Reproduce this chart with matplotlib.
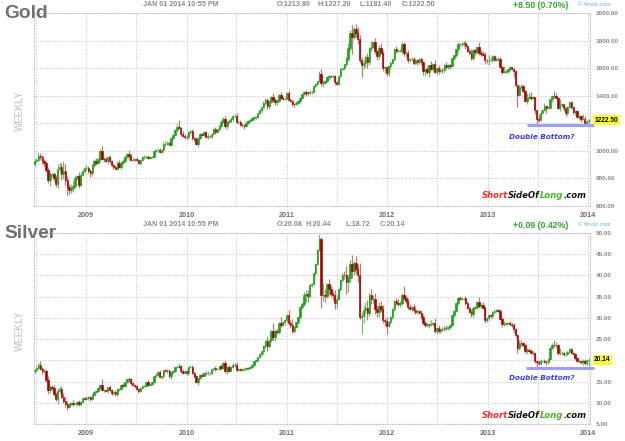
import matplotlib
matplotlib.use("Agg")
import matplotlib.pyplot as plt
import matplotlib.dates as mdates
from matplotlib.ticker import MultipleLocator, FuncFormatter
import numpy as np
import pandas as pd

plt.rcParams['font.family'] = ['Liberation Sans', 'DejaVu Sans']

# ---------------- gold, weekly closes (week ending Friday) ----------------
gold_2008 = [929, 933, 962, 956, 929, 912, 864, 785, 832, 833, 804, 762, 868, 885,
             833, 857, 785, 737, 718, 734, 748, 800, 815, 752, 823, 852, 874]
gold_2009 = [878, 853, 838, 896, 928, 915, 941, 1002, 942, 938, 929, 952, 923, 898,
             883, 871, 913, 886, 915, 929, 957, 978, 962, 936, 935, 940, 931, 913,
             937, 952, 955, 959, 948, 953, 955, 996, 1007, 1009, 991, 1004, 1050, 1053,
             1056, 1045, 1096, 1118, 1148, 1176, 1168, 1122, 1110, 1104]
gold_2010 = [1097, 1137, 1141, 1094, 1083, 1050, 1093, 1120, 1118, 1135, 1102, 1107,
             1105, 1125, 1162, 1137, 1156, 1180, 1210, 1231, 1177, 1212, 1218, 1228,
             1256, 1256, 1208, 1210, 1189, 1188, 1181, 1205, 1215, 1227, 1237, 1246,
             1246, 1275, 1298, 1317, 1345, 1372, 1326, 1358, 1393, 1367, 1352, 1362,
             1405, 1385, 1378, 1379, 1420]
gold_2011 = [1369, 1360, 1342, 1340, 1348, 1360, 1387, 1410, 1429, 1421, 1419, 1428,
             1430, 1474, 1486, 1504, 1556, 1491, 1492, 1509, 1536, 1542, 1540, 1540,
             1500, 1486, 1543, 1594, 1602, 1628, 1664, 1744, 1852, 1829, 1884, 1856,
             1814, 1658, 1624, 1636, 1682, 1642, 1747, 1756, 1788, 1724, 1685, 1745,
             1712, 1598, 1606, 1566]
gold_2012 = [1617, 1640, 1664, 1740, 1725, 1725, 1725, 1775, 1711, 1712, 1658, 1663,
             1669, 1640, 1659, 1643, 1663, 1645, 1580, 1592, 1574, 1621, 1595, 1628,
             1572, 1604, 1580, 1590, 1584, 1622, 1605, 1621, 1617, 1671, 1692, 1737,
             1772, 1774, 1773, 1780, 1757, 1725, 1712, 1676, 1731, 1714, 1752, 1712,
             1705, 1696, 1658, 1656]
gold_2013 = [1656, 1661, 1687, 1659, 1667, 1667, 1610, 1572, 1573, 1577, 1592, 1607,
             1596, 1581, 1476, 1405, 1462, 1470, 1436, 1364, 1386, 1392, 1383, 1388,
             1297, 1234, 1223, 1277, 1296, 1323, 1310, 1312, 1373, 1396, 1395, 1387,
             1308, 1333, 1337, 1310, 1272, 1315, 1352, 1315, 1285, 1288, 1243, 1253,
             1230, 1234, 1204, 1214]
gold_2014 = [1222.5]
gold_close = gold_2008 + gold_2009 + gold_2010 + gold_2011 + gold_2012 + gold_2013 + gold_2014
gold_open0 = 904

gold_wick_up = [
    12, 18, 26, 25, 14, 12, 18, 22, 18, 10, 14, 20, 40, 24, 30, 70, 50, 30, 22, 25, 30, 14, 12, 30, 22, 18, 10,
    20, 15, 12, 10, 12, 18, 10, 8, 30, 12, 15, 10, 20, 12, 10, 15, 12, 20, 8, 10, 8, 10, 26, 14, 10, 8,
    12, 10, 6, 8, 12, 10, 12, 8, 8, 4, 10, 12, 14, 8, 12, 17, 14, 18, 4, 6, 8, 18, 51, 8, 22, 10,
    8, 6, 12, 16, 10, 16, 6, 8, 10, 6, 12, 20, 8, 6, 6, 14, 6, 4, 12, 18, 22, 8, 10, 14, 6, 10,
    18, 8, 12, 14, 8, 8, 8, 6, 8, 10, 6, 6, 8, 4, 20, 15, 14, 10, 6, 30, 20, 14, 6, 20, 10, 12, 4,
    20, 14, 10, 8, 12, 8, 4, 2, 6, 12, 10, 10, 10, 2, 4, 4, 20, 40, 20, 8, 4, 8, 10, 10, 12, 10,
    2, 4, 6, 4, 20, 40, 25, 61, 12, 37, 40, 30, 24, 20, 12, 30, 6, 40, 12, 30, 10, 20, 40, 20, 10, 10,
    8, 10, 4, 4, 20, 14, 14, 15, 17, 10, 20, 10, 12, 12, 18, 10, 8, 20, 10, 10, 20, 5, 30, 10, 30, 6,
    20, 10, 12, 8, 20, 8, 8, 6, 6, 4, 18, 12, 14, 15, 20, 20, 14, 25, 6, 10, 2, 40, 20, 20, 20, 8,
    37, 19, 9, 10, 17, 17, 14, 8, 46, 13, 5, 10, 4, 10, 6, 4, 14, 18, 10, 5, 31, 28, 32, 9, 4, 1,
    33, 21, 4, 25, 13, 12, 5, 1, 38, 28, 4, 43, 10, 1, 19, 8, 2, 9, 7, 6, 5, 7, 2, 33, 20, 2,
    5]
gold_wick_dn = [
    14, 10, 8, 20, 24, 20, 20, 15, 40, 20, 25, 22, 30, 30, 45, 40, 30, 56, 37, 25, 30, 20, 12, 20, 10, 8, 10,
    10, 15, 28, 20, 10, 15, 12, 20, 8, 22, 12, 22, 8, 10, 18, 6, 10, 12, 14, 4, 8, 4, 30, 8, 10, 12,
    8, 8, 12, 10, 12, 4, 10, 8, 6, 6, 6, 10, 4, 6, 10, 12, 14, 6, 10, 10, 6, 6, 4, 12, 12, 20,
    12, 10, 12, 14, 8, 6, 20, 10, 6, 8, 8, 15, 15, 10, 6, 14, 10, 10, 10, 10, 12, 20, 12, 10, 8, 10,
    6, 15, 10, 12, 24, 10, 8, 4, 10, 12, 14, 8, 10, 16, 8, 12, 20, 22, 10, 10, 20, 22, 4, 12, 10, 12, 6,
    10, 8, 20, 24, 6, 8, 10, 6, 6, 20, 14, 10, 14, 6, 10, 8, 6, 20, 30, 10, 8, 20, 10, 12, 20, 10,
    8, 10, 8, 12, 10, 10, 20, 124, 14, 30, 40, 24, 89, 30, 30, 40, 20, 20, 8, 18, 28, 20, 12, 20, 30, 20,
    22, 20, 10, 10, 16, 10, 10, 20, 20, 30, 20, 12, 10, 20, 10, 20, 10, 20, 30, 40, 20, 40, 10, 20, 10, 20,
    20, 10, 20, 10, 10, 10, 20, 10, 10, 10, 20, 10, 10, 10, 20, 10, 10, 20, 20, 20, 10, 20, 20, 10, 30, 20,
    30, 11, 7, 4, 9, 18, 12, 18, 7, 11, 14, 11, 6, 42, 8, 84, 10, 14, 6, 6, 26, 8, 13, 8, 28, 54,
    16, 2, 2, 5, 39, 6, 2, 16, 9, 7, 2, 16, 17, 24, 21, 10, 4, 9, 18, 23, 6, 18, 19, 9, 17, 11,
    32]

# ---------------- silver, weekly closes ----------------
silver_2008 = [17.7, 18.2, 18.9, 18.0, 17.4, 17.5, 15.4, 12.9, 13.7, 13.5, 12.1, 10.9, 12.8,
               13.2, 11.4, 10.4, 9.6, 8.9, 9.8, 10.0, 9.7, 9.7, 10.1, 9.6, 10.2, 11.1, 10.9]
silver_2009 = [11.2, 11.3, 11.0, 11.9, 12.6, 12.8, 13.5, 14.3, 13.0, 13.0, 12.8, 13.6, 13.0,
               12.3, 12.5, 12.0, 13.2, 13.2, 14.3, 14.0, 14.9, 15.6, 15.5, 14.6, 14.2, 13.9,
               13.3, 12.8, 13.5, 13.9, 14.0, 14.9, 14.3, 14.4, 14.8, 16.2, 16.6, 17.2, 16.0,
               16.3, 17.7, 17.6, 17.4, 16.2, 17.3, 17.4, 18.4, 18.4, 18.6, 17.4, 17.0, 17.4]
silver_2010 = [16.9, 18.4, 18.5, 17.0, 16.2, 14.9, 15.8, 16.6, 16.4, 17.1, 16.9, 17.0, 17.0,
               17.9, 18.2, 17.9, 18.0, 18.6, 18.3, 19.3, 17.4, 18.4, 17.6, 18.4, 19.0, 18.9,
               17.8, 18.0, 17.8, 17.9, 18.0, 18.3, 18.1, 18.4, 19.0, 19.8, 20.0, 20.8, 21.5,
               22.1, 23.3, 24.6, 23.4, 24.7, 26.8, 25.5, 26.9, 26.7, 28.9, 28.4, 29.0, 29.4, 30.6]
silver_2011 = [28.8, 28.3, 26.9, 27.9, 29.0, 30.1, 32.6, 33.2, 35.3, 35.7, 35.2, 37.8, 38.0,
               40.5, 42.8, 46.0, 48.6, 35.3, 35.3, 35.2, 37.9, 36.8, 35.7, 35.3, 33.5, 34.5,
               36.8, 39.0, 40.2, 40.0, 38.4, 39.3, 42.7, 41.0, 43.0, 41.6, 40.0, 30.1, 30.4,
               31.8, 32.4, 31.2, 35.3, 34.5, 34.5, 32.2, 31.3, 32.9, 32.1, 29.4, 29.2, 28.2]
silver_2012 = [29.0, 30.2, 32.1, 34.0, 33.6, 33.2, 33.5, 35.4, 34.6, 34.0, 32.6, 32.2, 32.5,
               31.8, 31.4, 31.6, 31.1, 30.3, 28.8, 28.4, 28.4, 28.5, 28.5, 28.7, 26.9, 27.6,
               26.9, 27.4, 27.3, 27.7, 27.6, 27.8, 28.3, 30.6, 31.6, 33.4, 34.6, 34.5, 34.6,
               34.7, 33.4, 32.4, 31.5, 30.8, 32.4, 32.5, 33.8, 32.8, 33.1, 32.3, 29.5, 30.0]
silver_2013 = [30.6, 30.4, 31.5, 31.6, 31.9, 31.7, 29.8, 28.5, 28.6, 28.8, 28.9, 28.6, 28.3,
               27.3, 25.9, 22.8, 24.2, 24.0, 23.6, 22.3, 22.5, 22.3, 21.8, 21.8, 19.9, 19.7,
               19.3, 19.9, 19.9, 19.7, 19.6, 20.3, 23.0, 23.7, 23.5, 23.6, 21.7, 21.8, 21.8,
               21.6, 21.6, 22.0, 22.6, 21.8, 21.6, 20.6, 19.8, 19.9, 19.5, 19.9, 19.4, 20.05]
silver_2014 = [20.14]
silver_close = silver_2008 + silver_2009 + silver_2010 + silver_2011 + silver_2012 + silver_2013 + silver_2014
silver_open0 = 17.4

silver_wick_up = [
    0.3, 0.4, 0.4, 0.9, 0.5, 0.4, 0.5, 0.8, 0.4, 0.4, 0.6, 0.5, 0.6, 0.4, 0.8, 1.0, 0.9, 0.8, 0.2, 0.3, 0.6, 0.2, 0.3, 0.5, 0.2, 0.2, 0.3,
    0.4, 0.4, 0.3, 0.1, 0.2, 0.3, 0.2, 0.2, 1.2, 0.3, 0.3, 0.2, 0.6, 0.3, 0.3, 0.4, 0.2, 0.3, 0.1, 0.3, 0.1, 0.2, 0.4, 0.4, 0.2, 0.3,
    0.3, 0.2, 0.1, 0.1, 0.2, 0.1, 0.4, 0.2, 0.1, 0.1, 0.3, 0.2, 0.6, 0.1, 0.1, 0.3, 0.4, 0.6, 0.1, 0.3, 0.1, 0.3, 0.8, 0.3, 0.5, 0.2,
    0.4, 0.1, 0.4, 0.5, 0.3, 0.4, 0.1, 0.2, 0.3, 0.1, 0.4, 0.5, 0.2, 0.1, 0.1, 0.4, 0.1, 0.1, 0.5, 0.3, 0.8, 0.1, 0.6, 0.2, 0.3, 0.3,
    0.6, 0.3, 0.3, 0.3, 0.2, 0.2, 0.2, 0.2, 0.1, 0.1, 0.2, 0.1, 0.3, 0.1, 0.3, 0.2, 1.0, 0.2, 0.4, 1.9, 0.4, 0.5, 0.2, 1.2, 0.3, 0.3, 0.3,
    1.2, 0.6, 1.4, 0.3, 0.1, 0.2, 0.2, 0.5, 0.8, 0.8, 0.8, 0.1, 0.3, 0.2, 0.2, 0.2, 1.2, 0.4, 3.0, 1.4, 0.3, 1.3, 1.0, 0.6, 1.2, 0.9,
    0.2, 0.1, 0.3, 0.8, 2.2, 1.0, 1.0, 2.2, 0.5, 1.5, 1.2, 3.0, 1.0, 0.9, 1.3, 1.7, 0.5, 1.5, 0.8, 1.3, 0.8, 0.9, 1.0, 1.0, 0.6, 1.1,
    0.3, 0.2, 0.2, 0.2, 0.8, 0.8, 0.5, 0.5, 2.1, 0.8, 0.8, 0.6, 0.3, 0.7, 0.9, 0.3, 0.3, 0.8, 0.5, 0.4, 0.4, 0.3, 1.0, 0.3, 1.3, 0.2,
    0.8, 0.3, 0.4, 0.3, 0.6, 0.2, 0.2, 0.1, 0.2, 0.3, 0.3, 0.5, 0.3, 0.1, 0.5, 0.6, 0.3, 0.5, 0.2, 0.4, 0.2, 1.2, 0.4, 0.6, 0.6, 0.3,
    0.4, 0.3, 0.2, 0.6, 0.3, 0.3, 0.4, 0.3, 0.6, 0.2, 0.2, 0.3, 0.3, 0.5, 0.3, 0.2, 0.5, 0.6, 0.3, 0.2, 0.5, 0.5, 0.4, 0.3, 0.2, 0.1,
    0.4, 0.3, 0.2, 0.3, 0.3, 0.2, 0.2, 0.4, 1.2, 0.8, 0.3, 1.2, 0.3, 0.1, 0.5, 0.2, 0.3, 0.3, 0.2, 0.2, 0.2, 0.3, 0.1, 0.5, 0.5, 0.1,
    0.3]
silver_wick_dn = [
    0.4, 0.5, 0.3, 0.3, 0.6, 0.5, 0.5, 0.8, 0.6, 0.5, 0.4, 0.5, 1.2, 0.5, 0.3, 0.5, 0.5, 0.5, 0.1, 0.4, 0.4, 0.3, 0.4, 0.3, 0.4, 0.3, 0.3,
    0.3, 0.5, 0.6, 0.3, 0.2, 0.4, 0.2, 0.3, 0.3, 0.5, 0.3, 0.6, 0.3, 0.4, 0.5, 0.4, 0.3, 0.4, 0.2, 0.3, 0.2, 0.2, 0.5, 0.3, 0.3, 0.4,
    0.4, 0.4, 0.2, 0.3, 0.3, 0.2, 0.3, 0.2, 0.2, 0.2, 0.2, 0.2, 0.2, 0.4, 0.3, 0.3, 0.5, 0.3, 0.5, 0.3, 0.2, 0.3, 0.2, 0.3, 0.3, 0.3,
    0.3, 0.3, 0.3, 0.3, 0.3, 0.3, 0.6, 0.2, 0.2, 0.2, 0.3, 0.3, 0.4, 0.3, 0.2, 0.3, 0.2, 0.3, 0.5, 0.4, 0.5, 0.7, 0.4, 0.2, 0.3, 0.4,
    0.2, 0.3, 0.3, 0.3, 0.3, 0.2, 0.3, 0.2, 0.2, 0.2, 0.2, 0.2, 0.3, 0.4, 0.5, 0.5, 1.3, 0.4, 0.4, 0.6, 1.0, 0.4, 0.5, 0.6, 0.4, 0.6, 0.4,
    0.5, 0.6, 0.4, 0.4, 0.3, 0.4, 0.2, 0.4, 0.4, 1.5, 1.5, 0.5, 0.6, 0.3, 0.6, 0.4, 0.3, 3.0, 1.3, 1.5, 0.6, 1.4, 0.7, 1.0, 1.3, 1.2,
    0.4, 0.4, 0.5, 0.9, 2.8, 2.3, 0.8, 1.6, 0.9, 1.2, 1.5, 0.3, 4.0, 1.6, 1.0, 1.6, 0.8, 1.2, 0.9, 1.2, 1.2, 1.2, 0.8, 0.7, 1.2, 2.0,
    0.4, 0.4, 0.5, 0.5, 0.6, 0.4, 0.6, 0.4, 0.4, 0.8, 0.5, 0.4, 0.6, 0.4, 0.4, 0.5, 0.3, 0.6, 0.5, 0.6, 0.5, 0.8, 0.4, 0.5, 0.4, 0.6,
    0.4, 0.4, 0.5, 0.5, 0.5, 0.4, 0.3, 0.2, 0.3, 0.3, 0.4, 0.4, 0.3, 0.3, 0.4, 0.4, 0.3, 0.5, 0.6, 0.3, 0.4, 0.5, 0.4, 0.3, 0.6, 0.4,
    0.5, 0.4, 0.3, 0.3, 0.3, 0.3, 0.3, 0.6, 0.4, 0.3, 0.3, 0.3, 0.4, 0.8, 0.4, 1.0, 0.4, 0.6, 0.5, 0.6, 0.7, 0.4, 0.4, 0.5, 0.5, 1.5,
    0.3, 0.3, 0.2, 0.3, 0.6, 0.4, 0.3, 0.3, 0.4, 0.5, 0.4, 0.5, 0.6, 0.6, 0.6, 0.3, 0.3, 0.3, 0.4, 0.5, 0.3, 0.5, 0.3, 0.6, 0.4, 0.4,
    1.4]

for lst in (gold_wick_up, gold_wick_dn, silver_close, silver_wick_up, silver_wick_dn):
    assert len(lst) == len(gold_close), len(lst)

weeks = pd.date_range("2008-06-27", periods=len(gold_close), freq="W-FRI")

W, H = 625, 441
GREEN = '#1f9e1f'
RED = '#a80000'
GRID = '#c9c9c9'
DOTS = (0, (1.2, 1.6))

fig = plt.figure(figsize=(W / 100, H / 100), dpi=100)
fig.patch.set_facecolor('white')
ax_g = fig.add_axes([34 / W, 1 - 206 / H, 556 / W, 193 / H])
ax_s = fig.add_axes([34 / W, 1 - 424 / H, 556 / W, 191 / H])


def candles(ax, close, open0, wick_up, wick_dn):
    c = np.array(close, dtype=float)
    o = np.concatenate([[open0], c[:-1]])
    hi = np.maximum(o, c) + np.array(wick_up)
    lo = np.minimum(o, c) - np.array(wick_dn)
    x = mdates.date2num(weeks)
    up = c >= o
    body = np.where(up, GREEN, RED)
    wick = np.where(up, '#6fbf6f', '#bf7a7a')
    ax.vlines(x, lo, hi, colors=wick, lw=0.9, zorder=2)
    ax.bar(x, np.abs(c - o), bottom=np.minimum(o, c), width=5.2, color=body,
           edgecolor=body, linewidth=0.45, zorder=3)


def style(ax, lo, hi, step, hidden):
    ax.set_xlim(pd.Timestamp('2008-06-25'), pd.Timestamp('2014-01-08'))
    ax.set_ylim(lo, hi)
    ax.yaxis.tick_right()
    ax.yaxis.set_major_locator(MultipleLocator(step))
    # the price tag takes the place of the nearest tick label
    ax.yaxis.set_major_formatter(FuncFormatter(
        lambda v, p: '' if abs(v - hidden) < 1e-6 else '%.2f' % v))
    ax.xaxis.set_major_locator(mdates.YearLocator())
    ax.xaxis.set_major_formatter(mdates.DateFormatter('%Y'))
    ax.xaxis.set_minor_locator(mdates.MonthLocator(bymonth=7))
    ax.tick_params(which='both', length=0)
    ax.tick_params(axis='y', pad=4, labelsize=4.6, labelcolor='#8a8a8a')
    ax.tick_params(axis='x', pad=4, labelsize=5.2, labelcolor='#6e6e6e')
    for lab in ax.get_xticklabels() + ax.get_yticklabels():
        lab.set_fontweight('bold')
    ax.grid(which='both', color=GRID, linestyle=DOTS, linewidth=0.7, zorder=0)
    for sp in ax.spines.values():
        sp.set_color(GRID)
        sp.set_linestyle(DOTS)
        sp.set_linewidth(0.8)


candles(ax_g, gold_close, gold_open0, gold_wick_up, gold_wick_dn)
candles(ax_s, silver_close, silver_open0, silver_wick_up, silver_wick_dn)
style(ax_g, 600, 2000, 200, 1200)
style(ax_s, 5, 50, 5, 20)


def ftext(x, y, s, **kw):
    kw.setdefault('va', 'center')
    return fig.text(x / W, 1 - y / H, s, **kw)


def header(y, name, ohlc, change):
    ftext(4, y + 8, name, fontsize=13.8, weight='bold', color='#707070')
    ftext(143, y, 'JAN 01 2014 10:55 PM', fontsize=5.1, weight='bold', color='#8a8a8a')
    for xp, s in ohlc:
        ftext(xp, y, s, fontsize=5.1, weight='bold', color='#8a8a8a')
    ftext(513, y, change, fontsize=6.3, weight='bold', color='#33a532')
    ftext(578, y, '\u00a9 finviz.com', fontsize=4.3, color='#6aaee8')


header(5, 'Gold', [(277, 'O:1213.80'), (318, 'H:1227.20'), (360, 'L:1181.40'), (402, 'C:1222.50')],
       '+8.50 (0.70%)')
header(225, 'Silver', [(277, 'O:20.08'), (305, 'H:20.44'), (345, 'L:18.72'), (380, 'C:20.14')],
       '+0.09 (0.42%)')

for yc in (111, 331):
    ftext(20, yc, 'WEEKLY', fontsize=7, weight='bold', color='#cfcfcf', rotation=90, ha='center')


def annotate_panel(ax, level, tag, tag_y, text_y, brand_y, start):
    ax.plot([pd.Timestamp(start), pd.Timestamp('2014-01-24')], [level, level], color='#9d9dfb',
            lw=2.2, solid_capstyle='butt', zorder=4, clip_on=False)
    ax.annotate(tag, xy=(1, tag_y), xycoords=('axes fraction', 'data'), xytext=(3, 0),
                textcoords='offset points', ha='left', va='center', fontsize=4.8, weight='bold',
                color='black', zorder=6,
                bbox=dict(boxstyle='square,pad=0.25', fc='#ffff33', ec='none'))
    ftext(542, text_y, 'Double Bottom?', fontsize=5.2, weight='bold', style='italic',
          color='#3a3af0', ha='center', family='DejaVu Sans')
    parts = [('Short', '#ff2a2a'), ('SideOf', '#151515'), ('Long', '#48b224'), ('.com', '#151515')]
    t = None
    for s, col in parts:
        kw = dict(fontsize=6.1, weight='bold', style='italic', color=col, family='DejaVu Sans',
                  ha='left', va='bottom')
        if t is None:
            t = ax.annotate(s, xy=(482, H - brand_y - 4.5), xycoords='figure pixels', **kw)
        else:
            t = ax.annotate(s, xy=(1, 0), xycoords=t, **kw)


annotate_panel(ax_g, 1190, '1222.50', 1222.5, 137, 196, '2013-05-24')
annotate_panel(ax_s, 18.3, '20.14', 20.14, 378, 415, '2013-05-20')

fig.savefig('out.png', dpi=100, facecolor='white')
